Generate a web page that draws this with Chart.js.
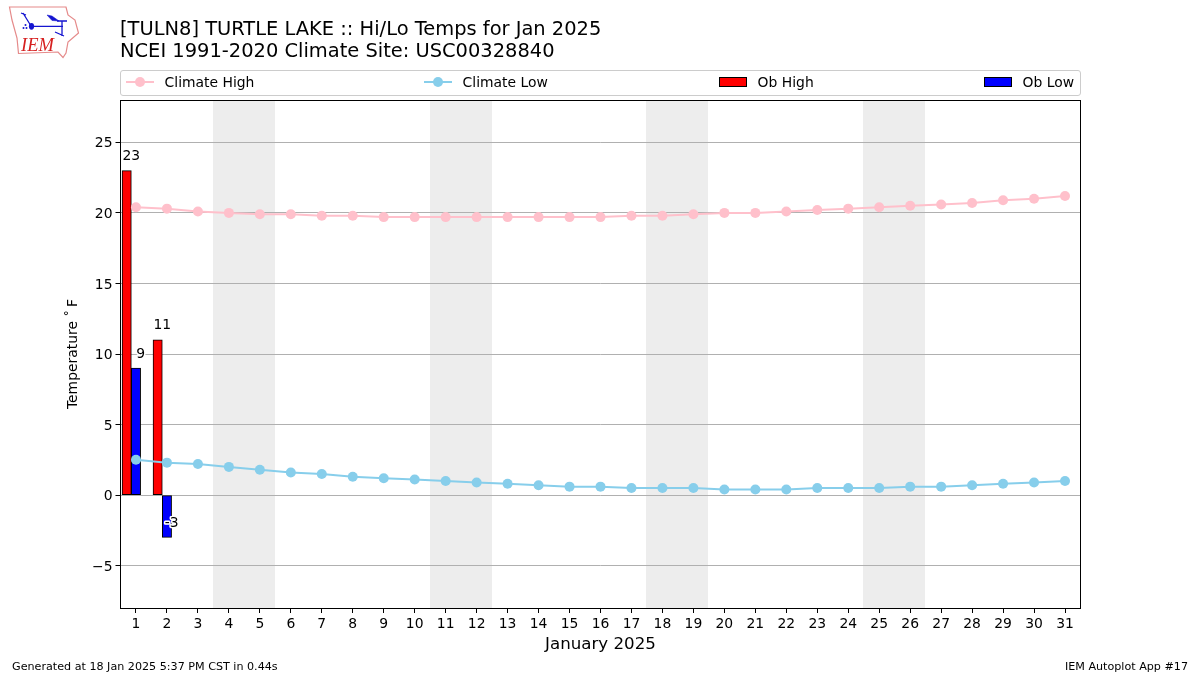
<!DOCTYPE html>
<html>
<head>
<meta charset="utf-8">
<title>TURTLE LAKE Hi/Lo Temps</title>
<script src="https://cdn.jsdelivr.net/npm/chart.js@4"></script>
<style>
    html, body { margin: 0; padding: 0; background: #fff; }
    body { position: relative; width: 1200px; height: 675px; overflow: hidden; font-family: "DejaVu Sans", sans-serif; color: #000; }
    canvas { position: absolute; left: 0; top: 0; }
    #title { position: absolute; left: 120px; top: 18px; font-size: 19.45px; line-height: 22.3px; white-space: nowrap; }
    #legend { position: absolute; left: 120px; top: 70px; width: 959px; height: 24px; border: 1px solid #ccc; border-radius: 3px; background: #fff; }
    .legend-item { position: absolute; top: 0; height: 24px; font-size: 13.9px; line-height: 22px; white-space: nowrap; }
    .legend-item svg { position: absolute; left: 0; top: 0; }
    .legend-item span { position: absolute; left: 38.6px; top: 0; }
    .footer { position: absolute; top: 660px; font-size: 11.15px; line-height: 14px; white-space: nowrap; }
    #logo { position: absolute; left: 0; top: 0; }
</style>
</head>
<body>
<canvas id="tempChart" width="1200" height="675"></canvas>
<svg id="logo" width="90" height="64" viewBox="0 0 90 64">
    <path d="M9.5 7 L66 7 L68 15 L75 20 L78.5 33 L68 42 L66 53 L63 57.5 L58 52 L18.5 53.5 L17 38 L12 20 Z" fill="#fff" stroke="#e58a8a" stroke-width="1.2"/>
    <g stroke="#1515d0" fill="#1515d0">
        <path d="M31 26.3 L63 26.3 M57 21 L67 21 M62 21 L62 36 M55 32 L64 36 M31 26 L23 13 M21 13 L26 15" stroke-width="1.3" fill="none"/>
        <ellipse cx="31.5" cy="26.3" rx="2.6" ry="3.4" stroke="none"/>
        <path d="M47 15 L52 16 L59 21 L52 20.5 Z" stroke-width="0.5"/>
        <circle cx="25.5" cy="25" r="1" stroke="none"/>
        <circle cx="23.5" cy="28" r="1" stroke="none"/>
        <circle cx="26.5" cy="28" r="1" stroke="none"/>
    </g>
    <text x="21" y="51" font-family="Liberation Serif" font-style="italic" font-size="18.5" fill="#d62020">IEM</text>
</svg>
<div id="title">[TULN8] TURTLE LAKE :: Hi/Lo Temps for Jan 2025<br>NCEI 1991-2020 Climate Site: USC00328840</div>
<div id="legend"></div>
<div class="footer" style="left:12px">Generated at 18 Jan 2025 5:37 PM CST in 0.44s</div>
<div class="footer" style="right:12px">IEM Autoplot App #17</div>
<script>
const days = [1, 2, 3, 4, 5, 6, 7, 8, 9, 10, 11, 12, 13, 14, 15, 16, 17, 18, 19, 20, 21, 22, 23, 24, 25, 26, 27, 28, 29, 30, 31];
const climateHigh = [20.4, 20.3, 20.1, 20.0, 19.9, 19.9, 19.8, 19.8, 19.7, 19.7, 19.7, 19.7, 19.7, 19.7, 19.7, 19.7, 19.8, 19.8, 19.9, 20.0, 20.0, 20.1, 20.2, 20.3, 20.4, 20.5, 20.6, 20.7, 20.9, 21.0, 21.2];
const climateLow = [2.5, 2.3, 2.2, 2.0, 1.8, 1.6, 1.5, 1.3, 1.2, 1.1, 1.0, 0.9, 0.8, 0.7, 0.6, 0.6, 0.5, 0.5, 0.5, 0.4, 0.4, 0.4, 0.5, 0.5, 0.5, 0.6, 0.6, 0.7, 0.8, 0.9, 1.0];
const obHigh = [23, 11];
const obLow = [9, -3];
const weekendDays = [4, 5, 11, 12, 18, 19, 25, 26];
const yTicks = [-5, 0, 5, 10, 15, 20, 25];

const barThickness = 9.29;
const barOffset = 0.3;

// weekend shading goes under the grid, frame and value labels on top
const plotExtras = {
    id: 'plotExtras',
    beforeDraw(chart) {
        const { ctx, chartArea, scales: { x } } = chart;
        ctx.save();
        ctx.fillStyle = '#ededed';
        weekendDays.forEach(day => {
            const left = Math.round(x.getPixelForValue(day - 0.5) - 0.5);
            const right = Math.round(x.getPixelForValue(day + 0.5) - 0.5);
            ctx.fillRect(left, chartArea.top, right - left, chartArea.bottom - chartArea.top);
        });
        ctx.restore();
    },
    afterDatasetsDraw(chart) {
        const { ctx, chartArea, scales: { x, y } } = chart;
        ctx.save();
        ctx.strokeStyle = '#000';
        ctx.lineWidth = 1;
        ctx.strokeRect(Math.floor(chartArea.left) + 0.5, chartArea.top + 0.5, Math.round(chartArea.right - chartArea.left), chartArea.bottom - chartArea.top);
        ctx.font = '13.9px "DejaVu Sans"';
        ctx.textAlign = 'center';
        ctx.textBaseline = 'middle';
        ctx.lineJoin = 'round';
        const label = (value, dayPos) => {
            const px = x.getPixelForValue(dayPos);
            const py = y.getPixelForValue(value + 1);
            ctx.strokeStyle = '#fff';
            ctx.lineWidth = 3;
            ctx.strokeText(String(value), px, py);
            ctx.fillStyle = '#000';
            ctx.fillText(String(value), px, py);
        };
        obHigh.forEach((v, i) => label(v, days[i] - barOffset / 2));
        obLow.forEach((v, i) => label(v, days[i] + barOffset / 2));
        ctx.restore();
    }
};

const chart = new Chart(document.getElementById('tempChart').getContext('2d'), {
    data: {
        datasets: [
            {
                type: 'line',
                label: 'Climate High',
                data: days.map((d, i) => ({ x: d, y: climateHigh[i] })),
                borderColor: '#ffc0cb',
                backgroundColor: '#ffc0cb',
                borderWidth: 2,
                pointRadius: 5,
                pointBorderWidth: 0,
                tension: 0,
                order: 1
            },
            {
                type: 'line',
                label: 'Climate Low',
                data: days.map((d, i) => ({ x: d, y: climateLow[i] })),
                borderColor: '#87ceeb',
                backgroundColor: '#87ceeb',
                borderWidth: 2,
                pointRadius: 5,
                pointBorderWidth: 0,
                tension: 0,
                order: 1
            },
            {
                type: 'bar',
                label: 'Ob High',
                data: obHigh.map((v, i) => ({ x: days[i] - barOffset, y: v })),
                backgroundColor: '#ff0000',
                borderColor: '#000',
                borderWidth: 1,
                borderSkipped: false,
                barThickness: barThickness,
                grouped: false,
                order: 2
            },
            {
                type: 'bar',
                label: 'Ob Low',
                data: obLow.map((v, i) => ({ x: days[i], y: v })),
                backgroundColor: '#0000ff',
                borderColor: '#000',
                borderWidth: 1,
                borderSkipped: false,
                barThickness: barThickness,
                grouped: false,
                order: 2
            }
        ]
    },
    options: {
        responsive: false,
        animation: false,
        layout: { padding: { left: 0, right: 119.5, top: 100, bottom: 0 } },
        plugins: { legend: { display: false }, title: { display: false }, tooltip: { enabled: false } },
        scales: {
            x: {
                type: 'linear',
                min: 0.5,
                max: 31.5,
                offset: false,
                afterBuildTicks: scale => { scale.ticks = days.map(d => ({ value: d })); },
                afterFit: scale => { scale.height = 67; },
                grid: { offset: false, drawOnChartArea: false, drawTicks: true, tickLength: 5, tickColor: '#000', tickWidth: 1 },
                border: { display: false },
                ticks: { color: '#000', font: { family: 'DejaVu Sans', size: 13.9 }, padding: 3, maxRotation: 0, autoSkip: false, callback: v => String(v) },
                title: { display: true, text: 'January 2025', color: '#000', font: { family: 'DejaVu Sans', size: 16.67 }, padding: { top: 0, bottom: 20 } }
            },
            y: {
                type: 'linear',
                min: -8,
                max: 28,
                afterBuildTicks: scale => { scale.ticks = yTicks.map(v => ({ value: v })); },
                afterFit: scale => { scale.width = 120.5; },
                grid: { color: '#b0b0b0', lineWidth: 1, drawTicks: true, tickLength: 5, tickColor: '#000', tickWidth: 1 },
                border: { display: false },
                ticks: { color: '#000', font: { family: 'DejaVu Sans', size: 13.9 }, padding: 3, labelOffset: 1.5, callback: v => String(v).replace('-', '\u2212') },
                title: { display: true, text: 'Temperature \u02da\u2009F', color: '#000', font: { family: 'DejaVu Sans', size: 13.9 }, padding: { top: 65, bottom: 0 } }
            }
        }
    },
    plugins: [plotExtras]
});

// matplotlib style expanded legend, one slot per dataset
const legendSlots = [5, 303, 598, 863];
const legendEl = document.getElementById('legend');
chart.data.datasets.forEach((ds, i) => {
    const item = document.createElement('div');
    item.className = 'legend-item';
    item.style.left = legendSlots[i] + 'px';
    const key = ds.type === 'line'
        ? `<svg width="28" height="24"><line x1="0" y1="11" x2="28" y2="11" stroke="${ds.borderColor}" stroke-width="2"/><circle cx="14" cy="11" r="5" fill="${ds.backgroundColor}"/></svg>`
        : `<svg width="28" height="24"><rect x="0.5" y="6.5" width="27" height="9" fill="${ds.backgroundColor}" stroke="#000"/></svg>`;
    item.innerHTML = key + `<span>${ds.label}</span>`;
    legendEl.appendChild(item);
});
</script>
</body>
</html>
